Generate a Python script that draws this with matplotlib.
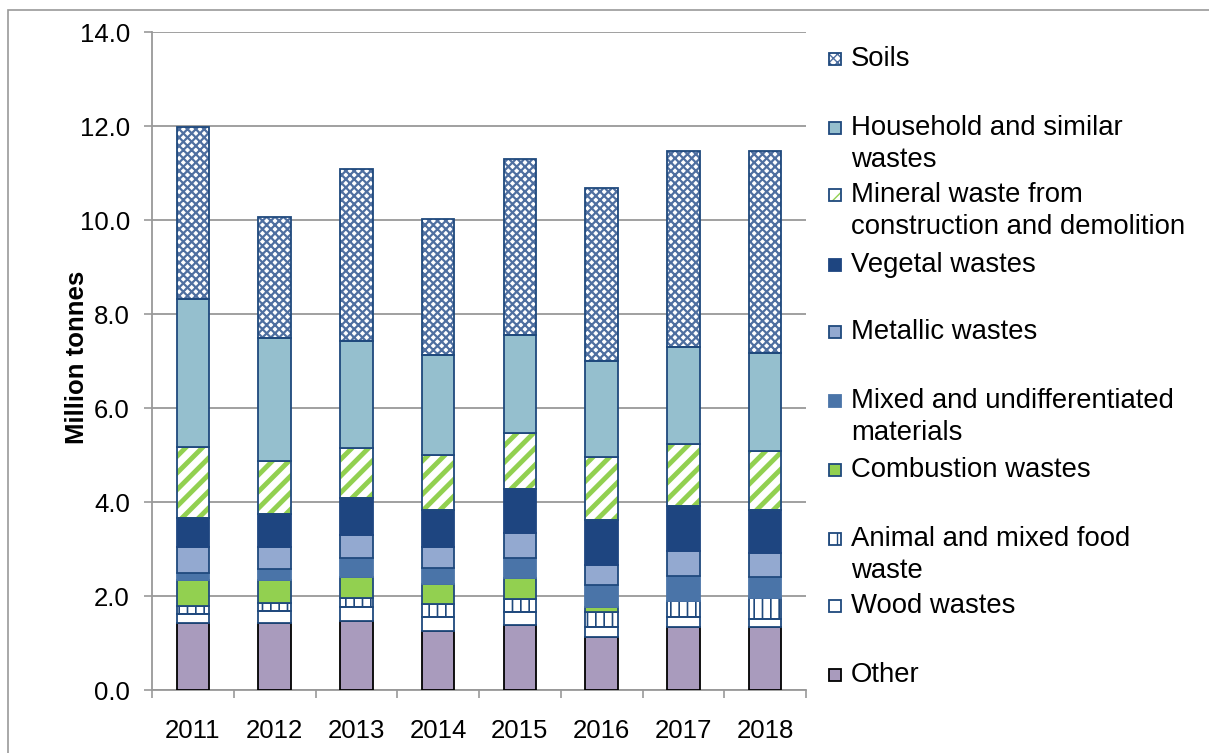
import numpy as np
import matplotlib
matplotlib.use("Agg")
import matplotlib.pyplot as plt
from matplotlib.patches import Rectangle

plt.rcParams['font.family'] = ['Liberation Sans', 'DejaVu Sans']

years = ['2011', '2012', '2013', '2014', '2015', '2016', '2017', '2018']

# stacked from bottom to top, million tonnes
other = [1.43, 1.43, 1.47, 1.26, 1.38, 1.13, 1.35, 1.35]
wood = [0.18, 0.25, 0.30, 0.30, 0.27, 0.22, 0.21, 0.16]
animal_food = [0.18, 0.18, 0.18, 0.26, 0.28, 0.30, 0.34, 0.44]
combustion = [0.54, 0.47, 0.46, 0.43, 0.45, 0.12, 0.00, 0.00]
mixed = [0.17, 0.24, 0.39, 0.34, 0.42, 0.46, 0.53, 0.46]
metallic = [0.55, 0.48, 0.50, 0.46, 0.53, 0.43, 0.53, 0.50]
vegetal = [0.62, 0.69, 0.79, 0.78, 0.94, 0.96, 0.96, 0.92]
mineral = [1.51, 1.13, 1.05, 1.18, 1.20, 1.34, 1.31, 1.26]
household = [3.13, 2.63, 2.29, 2.12, 2.08, 2.05, 2.07, 2.07]
soils = [3.66, 2.56, 3.66, 2.89, 3.75, 3.68, 4.17, 4.31]

navy = '#1F497D'
green = '#92D050'

# (values, label lines, face, hatch, hatch colour, edge colour)
series = [
    (other, ['Other'], '#A99BBD', None, None, 'black'),
    (wood, ['Wood wastes'], 'white', None, None, navy),
    (animal_food, ['Animal and mixed food', 'waste'], 'white', '||', navy, navy),
    (combustion, ['Combustion wastes'], green, None, None, navy),
    (mixed, ['Mixed and undifferentiated', 'materials'], '#4A74A8', None, None, '#4A74A8'),
    (metallic, ['Metallic wastes'], '#93A9D0', None, None, navy),
    (vegetal, ['Vegetal wastes'], '#1E4580', None, None, '#1E4580'),
    (mineral, ['Mineral waste from', 'construction and demolition'], 'white', '//', green, navy),
    (household, ['Household and similar', 'wastes'], '#95BFCE', None, None, navy),
    (soils, ['Soils'], 'white', 'xxxx', '#4F6FA0', navy),
]
hatch_lw = {'//': 3.5, '||': 1.2, 'xxxx': 1.6}

W, H = 1209, 753
fig = plt.figure(figsize=(W / 100, H / 100), dpi=100)
ax = fig.add_axes([152 / W, 63 / H, (806 - 152) / W, (690 - 32) / H])

x = np.arange(len(years))
bottom = np.zeros(len(years))
for vals, lab, face, hatch, hcol, edge in series:
    vals = np.array(vals)
    if hatch:
        plt.rcParams['hatch.linewidth'] = hatch_lw[hatch]
        ax.bar(x, vals, 0.4, bottom=bottom, color=face, edgecolor=hcol,
               hatch=hatch, linewidth=0, zorder=2)
        ax.bar(x, vals, 0.4, bottom=bottom, fill=False, edgecolor=edge,
               linewidth=1.3, zorder=3)
    else:
        ax.bar(x, vals, 0.4, bottom=bottom, color=face, edgecolor=edge,
               linewidth=1.3, zorder=3)
    bottom += vals

ax.set_xlim(-0.5, len(years) - 0.5)
ax.set_ylim(0, 14)
ax.set_yticks(np.arange(0, 14.1, 2))
ax.set_yticklabels(['%.1f' % v for v in np.arange(0, 14.1, 2)])
ax.set_xticks(x)
ax.set_xticklabels(years)
ax.set_xticks(np.arange(-0.5, len(years), 1), minor=True)
ax.tick_params(axis='x', which='major', length=0, pad=21, labelsize=18.5)
ax.tick_params(axis='x', which='minor', length=6, color='#999999', width=1.2)
ax.tick_params(axis='y', length=6, color='#999999', width=1.2, pad=10, labelsize=18.5)
ax.yaxis.grid(True, color='#999999', linewidth=1.3, zorder=0)
ax.set_axisbelow(True)
for s in ['top', 'right']:
    ax.spines[s].set_visible(False)
for s in ['left', 'bottom']:
    ax.spines[s].set_color('#999999')
    ax.spines[s].set_linewidth(1.3)
ax.set_ylabel('Million tonnes', fontsize=18.5, fontweight='bold')
ax.yaxis.set_label_coords(-0.097, 0.505)

# legend, Excel style
leg_y = [675, 606, 539, 470, 401, 332, 265, 195, 128, 59]
for (vals, lab, face, hatch, hcol, edge), yy in zip(series, leg_y):
    plt.rcParams['hatch.linewidth'] = 1.0
    r = Rectangle((829 / W, 1 - (yy + 6) / H), 12 / W, 12 / H, transform=fig.transFigure,
                  facecolor=face, edgecolor=hcol if hatch else edge, hatch=hatch,
                  linewidth=0 if hatch else 1.3)
    fig.add_artist(r)
    if hatch:
        fig.add_artist(Rectangle((829 / W, 1 - (yy + 6) / H), 12 / W, 12 / H,
                                 transform=fig.transFigure, fill=False,
                                 edgecolor=edge, linewidth=1.3))
    for i, line in enumerate(lab):
        fig.text(851 / W, 1 - (yy + 32 * i) / H, line, fontsize=19.8, va='center', ha='left')

# chart border
fig.add_artist(Rectangle((8 / W, -0.05), 1.2, 1 - 10 / H + 0.05, transform=fig.transFigure,
                         fill=False, edgecolor='#999999', linewidth=1.2))

fig.savefig('out.png', dpi=100)
